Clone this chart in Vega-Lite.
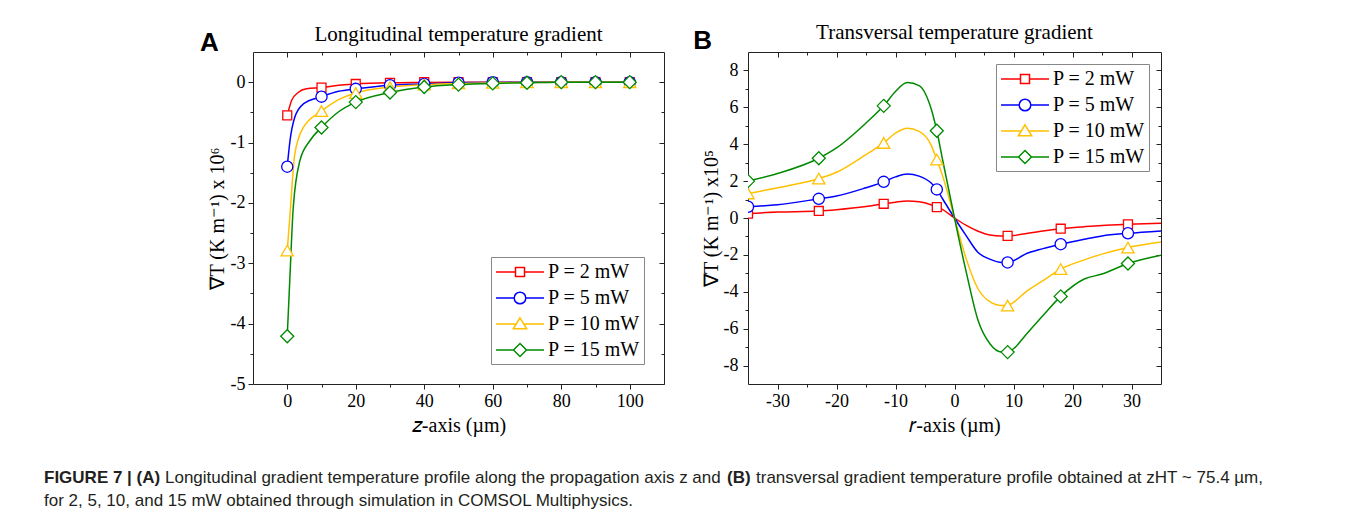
{
"$schema": "https://vega.github.io/schema/vega-lite/v6.json",
"autosize": {"type": "none"},
"padding": {"left": 253, "top": 52, "right": 1103, "bottom": 471},
"background": "white",
"config": {
  "view": {"stroke": "#222", "strokeWidth": 1},
  "axis": {"grid": false, "domain": false, "labelFont": "Liberation Serif", "labelFontSize": 18, "labelColor": "black", "titleFont": "Liberation Serif", "titleFontSize": 20, "titleFontWeight": "normal", "titleColor": "black", "tickColor": "#222", "tickWidth": 1, "labelFlush": false, "labelOverlap": false},
  "title": {"font": "Liberation Serif", "fontSize": 21, "fontWeight": "normal", "color": "black"},
  "legend": {"title": null, "padding": 4, "strokeColor": "#888", "fillColor": "white", "labelFont": "Liberation Serif", "labelFontSize": 20, "labelColor": "black", "symbolSize": 400, "symbolStrokeWidth": 1.5, "labelOffset": 31, "rowPadding": 5, "symbolFillColor": "white"}
},
"datasets": {
  "lineA": [
    {"s":"P = 2 mW","z":0,"v":-0.55},{"s":"P = 2 mW","z":1.3,"v":-0.30},{"s":"P = 2 mW","z":3.2,"v":-0.17},{"s":"P = 2 mW","z":5.6,"v":-0.11},{"s":"P = 2 mW","z":10,"v":-0.09},{"s":"P = 2 mW","z":15,"v":-0.05},{"s":"P = 2 mW","z":20,"v":-0.03},{"s":"P = 2 mW","z":30,"v":-0.011},{"s":"P = 2 mW","z":40,"v":-0.005},{"s":"P = 2 mW","z":50,"v":0},{"s":"P = 2 mW","z":60,"v":0},{"s":"P = 2 mW","z":70,"v":0},{"s":"P = 2 mW","z":80,"v":0},{"s":"P = 2 mW","z":90,"v":0},{"s":"P = 2 mW","z":100,"v":0},
    {"s":"P = 5 mW","z":0,"v":-1.40},{"s":"P = 5 mW","z":0.8,"v":-0.97},{"s":"P = 5 mW","z":2.2,"v":-0.58},{"s":"P = 5 mW","z":4.7,"v":-0.36},{"s":"P = 5 mW","z":10,"v":-0.24},{"s":"P = 5 mW","z":15,"v":-0.15},{"s":"P = 5 mW","z":20,"v":-0.11},{"s":"P = 5 mW","z":30,"v":-0.05},{"s":"P = 5 mW","z":40,"v":-0.03},{"s":"P = 5 mW","z":50,"v":-0.01},{"s":"P = 5 mW","z":60,"v":-0.005},{"s":"P = 5 mW","z":70,"v":0},{"s":"P = 5 mW","z":80,"v":0},{"s":"P = 5 mW","z":90,"v":0},{"s":"P = 5 mW","z":100,"v":0},
    {"s":"P = 10 mW","z":0,"v":-2.79},{"s":"P = 10 mW","z":0.8,"v":-2.2},{"s":"P = 10 mW","z":2.2,"v":-1.19},{"s":"P = 10 mW","z":4.7,"v":-0.75},{"s":"P = 10 mW","z":10,"v":-0.48},{"s":"P = 10 mW","z":15,"v":-0.29},{"s":"P = 10 mW","z":20,"v":-0.18},{"s":"P = 10 mW","z":30,"v":-0.08},{"s":"P = 10 mW","z":40,"v":-0.04},{"s":"P = 10 mW","z":50,"v":-0.02},{"s":"P = 10 mW","z":60,"v":-0.01},{"s":"P = 10 mW","z":70,"v":-0.005},{"s":"P = 10 mW","z":80,"v":0},{"s":"P = 10 mW","z":90,"v":0},{"s":"P = 10 mW","z":100,"v":0},
    {"s":"P = 15 mW","z":0,"v":-4.21},{"s":"P = 15 mW","z":0.8,"v":-3.2},{"s":"P = 15 mW","z":1.75,"v":-2.08},{"s":"P = 15 mW","z":3.7,"v":-1.30},{"s":"P = 15 mW","z":6.6,"v":-0.97},{"s":"P = 15 mW","z":10,"v":-0.75},{"s":"P = 15 mW","z":15,"v":-0.49},{"s":"P = 15 mW","z":20,"v":-0.33},{"s":"P = 15 mW","z":30,"v":-0.17},{"s":"P = 15 mW","z":40,"v":-0.08},{"s":"P = 15 mW","z":50,"v":-0.04},{"s":"P = 15 mW","z":60,"v":-0.02},{"s":"P = 15 mW","z":70,"v":-0.01},{"s":"P = 15 mW","z":80,"v":0},{"s":"P = 15 mW","z":90,"v":0},{"s":"P = 15 mW","z":100,"v":0}
  ],
  "markA": [
    {"s":"P = 2 mW","z":0,"v":-0.55},{"s":"P = 2 mW","z":10,"v":-0.09},{"s":"P = 2 mW","z":20,"v":-0.03},{"s":"P = 2 mW","z":30,"v":-0.01},{"s":"P = 2 mW","z":40,"v":0},{"s":"P = 2 mW","z":50,"v":0},{"s":"P = 2 mW","z":60,"v":0},{"s":"P = 2 mW","z":70,"v":0},{"s":"P = 2 mW","z":80,"v":0},{"s":"P = 2 mW","z":90,"v":0},{"s":"P = 2 mW","z":100,"v":0},
    {"s":"P = 5 mW","z":0,"v":-1.40},{"s":"P = 5 mW","z":10,"v":-0.24},{"s":"P = 5 mW","z":20,"v":-0.11},{"s":"P = 5 mW","z":30,"v":-0.05},{"s":"P = 5 mW","z":40,"v":-0.03},{"s":"P = 5 mW","z":50,"v":-0.01},{"s":"P = 5 mW","z":60,"v":0},{"s":"P = 5 mW","z":70,"v":0},{"s":"P = 5 mW","z":80,"v":0},{"s":"P = 5 mW","z":90,"v":0},{"s":"P = 5 mW","z":100,"v":0},
    {"s":"P = 10 mW","z":0,"v":-2.79},{"s":"P = 10 mW","z":10,"v":-0.48},{"s":"P = 10 mW","z":20,"v":-0.18},{"s":"P = 10 mW","z":30,"v":-0.08},{"s":"P = 10 mW","z":40,"v":-0.04},{"s":"P = 10 mW","z":50,"v":-0.02},{"s":"P = 10 mW","z":60,"v":-0.01},{"s":"P = 10 mW","z":70,"v":0},{"s":"P = 10 mW","z":80,"v":0},{"s":"P = 10 mW","z":90,"v":0},{"s":"P = 10 mW","z":100,"v":0},
    {"s":"P = 15 mW","z":0,"v":-4.21},{"s":"P = 15 mW","z":10,"v":-0.75},{"s":"P = 15 mW","z":20,"v":-0.33},{"s":"P = 15 mW","z":30,"v":-0.17},{"s":"P = 15 mW","z":40,"v":-0.08},{"s":"P = 15 mW","z":50,"v":-0.04},{"s":"P = 15 mW","z":60,"v":-0.02},{"s":"P = 15 mW","z":70,"v":-0.01},{"s":"P = 15 mW","z":80,"v":0},{"s":"P = 15 mW","z":90,"v":0},{"s":"P = 15 mW","z":100,"v":0}
  ],
  "lineB": [
    {"s":"P = 2 mW","r":-35,"v":0.24},{"s":"P = 2 mW","r":-30,"v":0.32},{"s":"P = 2 mW","r":-23,"v":0.38},{"s":"P = 2 mW","r":-20,"v":0.45},{"s":"P = 2 mW","r":-15,"v":0.62},{"s":"P = 2 mW","r":-12,"v":0.77},{"s":"P = 2 mW","r":-10,"v":0.86},{"s":"P = 2 mW","r":-8,"v":0.92},{"s":"P = 2 mW","r":-6,"v":0.88},{"s":"P = 2 mW","r":-4,"v":0.72},{"s":"P = 2 mW","r":-3,"v":0.59},{"s":"P = 2 mW","r":-2,"v":0.45},{"s":"P = 2 mW","r":0,"v":0},{"s":"P = 2 mW","r":2,"v":-0.40},{"s":"P = 2 mW","r":4,"v":-0.72},{"s":"P = 2 mW","r":6,"v":-0.92},{"s":"P = 2 mW","r":8,"v":-0.97},{"s":"P = 2 mW","r":9,"v":-0.97},{"s":"P = 2 mW","r":10,"v":-0.95},{"s":"P = 2 mW","r":12,"v":-0.85},{"s":"P = 2 mW","r":15,"v":-0.70},{"s":"P = 2 mW","r":18,"v":-0.58},{"s":"P = 2 mW","r":22,"v":-0.47},{"s":"P = 2 mW","r":25,"v":-0.40},{"s":"P = 2 mW","r":29.4,"v":-0.34},{"s":"P = 2 mW","r":35,"v":-0.29},
    {"s":"P = 5 mW","r":-35,"v":0.61},{"s":"P = 5 mW","r":-30,"v":0.72},{"s":"P = 5 mW","r":-23,"v":1.04},{"s":"P = 5 mW","r":-20,"v":1.19},{"s":"P = 5 mW","r":-15,"v":1.64},{"s":"P = 5 mW","r":-12,"v":1.96},{"s":"P = 5 mW","r":-10,"v":2.23},{"s":"P = 5 mW","r":-8,"v":2.39},{"s":"P = 5 mW","r":-6,"v":2.27},{"s":"P = 5 mW","r":-4,"v":1.91},{"s":"P = 5 mW","r":-3,"v":1.55},{"s":"P = 5 mW","r":-2,"v":1.03},{"s":"P = 5 mW","r":0,"v":0},{"s":"P = 5 mW","r":2,"v":-0.97},{"s":"P = 5 mW","r":4,"v":-1.87},{"s":"P = 5 mW","r":6,"v":-2.23},{"s":"P = 5 mW","r":8,"v":-2.41},{"s":"P = 5 mW","r":9,"v":-2.41},{"s":"P = 5 mW","r":10,"v":-2.32},{"s":"P = 5 mW","r":12,"v":-1.96},{"s":"P = 5 mW","r":15,"v":-1.66},{"s":"P = 5 mW","r":18,"v":-1.42},{"s":"P = 5 mW","r":22,"v":-1.15},{"s":"P = 5 mW","r":25,"v":-0.97},{"s":"P = 5 mW","r":29.4,"v":-0.83},{"s":"P = 5 mW","r":35,"v":-0.70},
    {"s":"P = 10 mW","r":-35,"v":1.33},{"s":"P = 10 mW","r":-30,"v":1.64},{"s":"P = 10 mW","r":-23,"v":2.14},{"s":"P = 10 mW","r":-20,"v":2.48},{"s":"P = 10 mW","r":-15,"v":3.44},{"s":"P = 10 mW","r":-12,"v":4.07},{"s":"P = 10 mW","r":-10,"v":4.6},{"s":"P = 10 mW","r":-8,"v":4.86},{"s":"P = 10 mW","r":-6,"v":4.7},{"s":"P = 10 mW","r":-4,"v":3.98},{"s":"P = 10 mW","r":-3,"v":3.17},{"s":"P = 10 mW","r":-2,"v":2.27},{"s":"P = 10 mW","r":0,"v":0},{"s":"P = 10 mW","r":2,"v":-2.23},{"s":"P = 10 mW","r":4,"v":-3.85},{"s":"P = 10 mW","r":6,"v":-4.54},{"s":"P = 10 mW","r":8,"v":-4.75},{"s":"P = 10 mW","r":9,"v":-4.75},{"s":"P = 10 mW","r":10,"v":-4.57},{"s":"P = 10 mW","r":12,"v":-4.03},{"s":"P = 10 mW","r":15,"v":-3.4},{"s":"P = 10 mW","r":18,"v":-2.77},{"s":"P = 10 mW","r":22,"v":-2.27},{"s":"P = 10 mW","r":25,"v":-1.96},{"s":"P = 10 mW","r":29.4,"v":-1.6},{"s":"P = 10 mW","r":35,"v":-1.3},
    {"s":"P = 15 mW","r":-35,"v":2.0},{"s":"P = 15 mW","r":-30,"v":2.41},{"s":"P = 15 mW","r":-23,"v":3.24},{"s":"P = 15 mW","r":-20,"v":3.80},{"s":"P = 15 mW","r":-15,"v":5.15},{"s":"P = 15 mW","r":-12,"v":6.08},{"s":"P = 15 mW","r":-10,"v":6.86},{"s":"P = 15 mW","r":-8,"v":7.34},{"s":"P = 15 mW","r":-6,"v":7.18},{"s":"P = 15 mW","r":-4,"v":5.96},{"s":"P = 15 mW","r":-3,"v":4.73},{"s":"P = 15 mW","r":-2,"v":3.13},{"s":"P = 15 mW","r":0,"v":0},{"s":"P = 15 mW","r":2,"v":-2.95},{"s":"P = 15 mW","r":4,"v":-5.56},{"s":"P = 15 mW","r":6,"v":-6.82},{"s":"P = 15 mW","r":8,"v":-7.27},{"s":"P = 15 mW","r":9,"v":-7.27},{"s":"P = 15 mW","r":10,"v":-7.09},{"s":"P = 15 mW","r":12,"v":-6.37},{"s":"P = 15 mW","r":15,"v":-5.29},{"s":"P = 15 mW","r":18,"v":-4.25},{"s":"P = 15 mW","r":22,"v":-3.31},{"s":"P = 15 mW","r":25,"v":-3.04},{"s":"P = 15 mW","r":29.4,"v":-2.47},{"s":"P = 15 mW","r":35,"v":-2.02}
  ],
  "markB": [
    {"s":"P = 2 mW","r":-35,"v":0.24},{"s":"P = 2 mW","r":-23,"v":0.38},{"s":"P = 2 mW","r":-12,"v":0.77},{"s":"P = 2 mW","r":-3,"v":0.59},{"s":"P = 2 mW","r":9,"v":-0.97},{"s":"P = 2 mW","r":18,"v":-0.58},{"s":"P = 2 mW","r":29.4,"v":-0.34},
    {"s":"P = 5 mW","r":-35,"v":0.61},{"s":"P = 5 mW","r":-23,"v":1.04},{"s":"P = 5 mW","r":-12,"v":1.96},{"s":"P = 5 mW","r":-3,"v":1.55},{"s":"P = 5 mW","r":9,"v":-2.41},{"s":"P = 5 mW","r":18,"v":-1.42},{"s":"P = 5 mW","r":29.4,"v":-0.83},
    {"s":"P = 10 mW","r":-35,"v":1.33},{"s":"P = 10 mW","r":-23,"v":2.14},{"s":"P = 10 mW","r":-12,"v":4.07},{"s":"P = 10 mW","r":-3,"v":3.17},{"s":"P = 10 mW","r":9,"v":-4.75},{"s":"P = 10 mW","r":18,"v":-2.77},{"s":"P = 10 mW","r":29.4,"v":-1.6},
    {"s":"P = 15 mW","r":-35,"v":2.0},{"s":"P = 15 mW","r":-23,"v":3.24},{"s":"P = 15 mW","r":-12,"v":6.08},{"s":"P = 15 mW","r":-3,"v":4.73},{"s":"P = 15 mW","r":9,"v":-7.27},{"s":"P = 15 mW","r":18,"v":-4.25},{"s":"P = 15 mW","r":29.4,"v":-2.47}
  ]
},
"concat": [
   {
    "width": 411, "height": 332,
    "title": {"text": "Longitudinal temperature gradient", "frame": "group", "offset": -15},
    "layer": [
     {"data": {"name": "lineA"},
      "mark": {"type": "line", "interpolate": "monotone", "strokeWidth": 1.5, "clip": true},
      "encoding": {
       "x": {"field": "z", "type": "quantitative", "scale": {"domain": [-10, 110], "nice": false, "zero": false},
             "axis": {"orient": "bottom", "values": [0, 20, 40, 60, 80, 100], "tickSize": 5, "labelPadding": 3, "title": "𝑧-axis (µm)", "titlePadding": 5, "labelExpr": "'' + datum.value"}},
       "y": {"field": "v", "type": "quantitative", "scale": {"domain": [-5, 0.5], "nice": false, "zero": false},
             "axis": {"orient": "left", "values": [-5, -4, -3, -2, -1, 0], "tickSize": 5, "labelPadding": 3, "title": "∇T (K m⁻¹) x 10⁶", "titlePadding": 3, "labelExpr": "'' + datum.value"}},
       "color": {"field": "s", "type": "nominal", "scale": {"domain": ["P = 2 mW", "P = 5 mW", "P = 10 mW", "P = 15 mW"], "range": ["#ff0000", "#0000ff", "#ffc000", "#008a00"]}, "legend": null}
      }},
     {"data": {"name": "markA"}, "transform": [{"filter": "datum.s === 'P = 2 mW'"}],
      "mark": {"type": "point", "shape": "square", "filled": false, "fill": "white", "opacity": 1, "size": 80, "strokeWidth": 1.3, "clip": true},
      "encoding": {
       "x": {"field": "z", "type": "quantitative", "scale": {"domain": [-10, 110], "nice": false, "zero": false},
             "axis": {"orient": "bottom", "values": [10, 30, 50, 70, 90], "tickSize": 3, "labels": false, "title": null}},
       "y": {"field": "v", "type": "quantitative", "scale": {"domain": [-5, 0.5], "nice": false, "zero": false},
             "axis": {"orient": "left", "values": [-4.5, -3.5, -2.5, -1.5, -0.5], "tickSize": 3, "labels": false, "title": null}},
       "color": {"field": "s", "type": "nominal", "legend": null}
      }},
     {"data": {"name": "markA"}, "transform": [{"filter": "datum.s === 'P = 5 mW'"}],
      "mark": {"type": "point", "shape": "circle", "filled": false, "fill": "white", "opacity": 1, "size": 125, "strokeWidth": 1.3, "clip": true},
      "encoding": {
       "x": {"field": "z", "type": "quantitative", "scale": {"domain": [-10, 110], "nice": false, "zero": false},
             "axis": {"orient": "top", "values": [0, 20, 40, 60, 80, 100], "tickSize": -5, "labels": false, "title": null}},
       "y": {"field": "v", "type": "quantitative", "scale": {"domain": [-5, 0.5], "nice": false, "zero": false},
             "axis": {"orient": "right", "values": [-5, -4, -3, -2, -1, 0], "tickSize": -5, "labels": false, "title": null}},
       "color": {"field": "s", "type": "nominal", "legend": null}
      }},
     {"data": {"name": "markA"}, "transform": [{"filter": "datum.s === 'P = 10 mW'"}],
      "mark": {"type": "point", "shape": "triangle-up", "filled": false, "fill": "white", "opacity": 1, "size": 150, "strokeWidth": 1.3, "clip": true},
      "encoding": {
       "x": {"field": "z", "type": "quantitative", "scale": {"domain": [-10, 110], "nice": false, "zero": false},
             "axis": {"orient": "top", "values": [10, 30, 50, 70, 90], "tickSize": -3, "labels": false, "title": null}},
       "y": {"field": "v", "type": "quantitative", "scale": {"domain": [-5, 0.5], "nice": false, "zero": false},
             "axis": {"orient": "right", "values": [-4.5, -3.5, -2.5, -1.5, -0.5], "tickSize": -3, "labels": false, "title": null}},
       "color": {"field": "s", "type": "nominal", "legend": null}
      }},
     {"data": {"name": "markA"}, "transform": [{"filter": "datum.s === 'P = 15 mW'"}],
      "mark": {"type": "point", "shape": "diamond", "filled": false, "fill": "white", "opacity": 1, "size": 170, "strokeWidth": 1.3, "clip": true},
      "encoding": {
       "x": {"field": "z", "type": "quantitative", "axis": null},
       "y": {"field": "v", "type": "quantitative", "axis": null},
       "color": {"field": "s", "type": "nominal", "legend": null}
      }},
     {"data": {"name": "markA"}, "transform": [{"filter": "false"}],
      "mark": {"type": "point", "filled": false, "fill": "white", "opacity": 1, "size": 400, "strokeWidth": 1.5},
      "encoding": {
       "x": {"field": "z", "type": "quantitative", "axis": null},
       "y": {"field": "v", "type": "quantitative", "axis": null},
       "color": {"field": "s", "type": "nominal", "legend": {"orient": "bottom-right", "offset": 20}},
       "shape": {"field": "s", "type": "nominal", "scale": {"domain": ["P = 2 mW", "P = 5 mW", "P = 10 mW", "P = 15 mW"], "range": ["M-1,0H0.95M1.85,0H3.8M0.95,-0.45H1.85V0.45H0.95Z", "M-1,0H0.82M1.98,0H3.8M1.98,0A0.58,0.58,0,1,1,0.82,0A0.58,0.58,0,1,1,1.98,0Z", "M-1,0H1.03M1.77,0H3.8M1.4,-0.62L2.07,0.48L0.73,0.48Z", "M-1,0H0.75M2.05,0H3.8M1.4,-0.65L2.05,0L1.4,0.65L0.75,0Z"]}, "legend": {"orient": "bottom-right", "offset": 20}}
      }},
     {"data": {"values": [{"lab": "A"}]},
      "mark": {"type": "text", "font": "Liberation Sans", "fontWeight": "bold", "fontSize": 26, "align": "center", "baseline": "alphabetic", "color": "black", "clip": false},
      "encoding": {
       "text": {"field": "lab"},
       "x": {"datum": -22.7, "type": "quantitative", "axis": null},
       "y": {"datum": 0.52, "type": "quantitative", "axis": null}
      }}
    ],
    "resolve": {"axis": {"x": "independent", "y": "independent"}, "legend": {"color": "independent", "shape": "independent"}}
   },
   {
    "width": 413, "height": 332,
    "title": {"text": "Transversal temperature gradient", "frame": "group", "offset": -15},
    "layer": [
     {"data": {"name": "lineB"},
      "mark": {"type": "line", "interpolate": "monotone", "strokeWidth": 1.5, "clip": true},
      "encoding": {
       "x": {"field": "r", "type": "quantitative", "scale": {"domain": [-35, 35], "nice": false, "zero": false},
             "axis": {"orient": "bottom", "values": [-30, -20, -10, 0, 10, 20, 30], "tickSize": 5, "labelPadding": 3, "title": "𝑟-axis (µm)", "titlePadding": 5, "labelExpr": "'' + datum.value"}},
       "y": {"field": "v", "type": "quantitative", "scale": {"domain": [-9, 9], "nice": false, "zero": false},
             "axis": {"orient": "left", "values": [-8, -6, -4, -2, 0, 2, 4, 6, 8], "tickSize": 5, "labelPadding": 5, "title": "∇T (K m⁻¹) x10⁵", "titlePadding": 2, "labelExpr": "'' + datum.value"}},
       "color": {"field": "s", "type": "nominal", "scale": {"domain": ["P = 2 mW", "P = 5 mW", "P = 10 mW", "P = 15 mW"], "range": ["#ff0000", "#0000ff", "#ffc000", "#008a00"]}, "legend": null}
      }},
     {"data": {"name": "markB"}, "transform": [{"filter": "datum.s === 'P = 2 mW'"}],
      "mark": {"type": "point", "shape": "square", "filled": false, "fill": "white", "opacity": 1, "size": 80, "strokeWidth": 1.3, "clip": true},
      "encoding": {
       "x": {"field": "r", "type": "quantitative", "scale": {"domain": [-35, 35], "nice": false, "zero": false},
             "axis": {"orient": "bottom", "values": [-25, -15, -5, 5, 15, 25], "tickSize": 3, "labels": false, "title": null}},
       "y": {"field": "v", "type": "quantitative", "scale": {"domain": [-9, 9], "nice": false, "zero": false},
             "axis": {"orient": "left", "values": [-7, -5, -3, -1, 1, 3, 5, 7], "tickSize": 3, "labels": false, "title": null}},
       "color": {"field": "s", "type": "nominal", "legend": null}
      }},
     {"data": {"name": "markB"}, "transform": [{"filter": "datum.s === 'P = 5 mW'"}],
      "mark": {"type": "point", "shape": "circle", "filled": false, "fill": "white", "opacity": 1, "size": 125, "strokeWidth": 1.3, "clip": true},
      "encoding": {
       "x": {"field": "r", "type": "quantitative", "scale": {"domain": [-35, 35], "nice": false, "zero": false},
             "axis": {"orient": "top", "values": [-30, -20, -10, 0, 10, 20, 30], "tickSize": -5, "labels": false, "title": null}},
       "y": {"field": "v", "type": "quantitative", "scale": {"domain": [-9, 9], "nice": false, "zero": false},
             "axis": {"orient": "right", "values": [-8, -6, -4, -2, 0, 2, 4, 6, 8], "tickSize": -5, "labels": false, "title": null}},
       "color": {"field": "s", "type": "nominal", "legend": null}
      }},
     {"data": {"name": "markB"}, "transform": [{"filter": "datum.s === 'P = 10 mW'"}],
      "mark": {"type": "point", "shape": "triangle-up", "filled": false, "fill": "white", "opacity": 1, "size": 150, "strokeWidth": 1.3, "clip": true},
      "encoding": {
       "x": {"field": "r", "type": "quantitative", "scale": {"domain": [-35, 35], "nice": false, "zero": false},
             "axis": {"orient": "top", "values": [-25, -15, -5, 5, 15, 25], "tickSize": -3, "labels": false, "title": null}},
       "y": {"field": "v", "type": "quantitative", "scale": {"domain": [-9, 9], "nice": false, "zero": false},
             "axis": {"orient": "right", "values": [-7, -5, -3, -1, 1, 3, 5, 7], "tickSize": -3, "labels": false, "title": null}},
       "color": {"field": "s", "type": "nominal", "legend": null}
      }},
     {"data": {"name": "markB"}, "transform": [{"filter": "datum.s === 'P = 15 mW'"}],
      "mark": {"type": "point", "shape": "diamond", "filled": false, "fill": "white", "opacity": 1, "size": 170, "strokeWidth": 1.3, "clip": true},
      "encoding": {
       "x": {"field": "r", "type": "quantitative", "axis": null},
       "y": {"field": "v", "type": "quantitative", "axis": null},
       "color": {"field": "s", "type": "nominal", "legend": null}
      }},
     {"data": {"name": "markB"}, "transform": [{"filter": "false"}],
      "mark": {"type": "point", "filled": false, "fill": "white", "opacity": 1, "size": 400, "strokeWidth": 1.5},
      "encoding": {
       "x": {"field": "r", "type": "quantitative", "axis": null},
       "y": {"field": "v", "type": "quantitative", "axis": null},
       "color": {"field": "s", "type": "nominal", "legend": {"orient": "top-right", "offset": 12}},
       "shape": {"field": "s", "type": "nominal", "scale": {"domain": ["P = 2 mW", "P = 5 mW", "P = 10 mW", "P = 15 mW"], "range": ["M-1,0H0.95M1.85,0H3.8M0.95,-0.45H1.85V0.45H0.95Z", "M-1,0H0.82M1.98,0H3.8M1.98,0A0.58,0.58,0,1,1,0.82,0A0.58,0.58,0,1,1,1.98,0Z", "M-1,0H1.03M1.77,0H3.8M1.4,-0.62L2.07,0.48L0.73,0.48Z", "M-1,0H0.75M2.05,0H3.8M1.4,-0.65L2.05,0L1.4,0.65L0.75,0Z"]}, "legend": {"orient": "top-right", "offset": 12}}
      }},
     {"data": {"values": [{"lab": "B"}]},
      "mark": {"type": "text", "font": "Liberation Sans", "fontWeight": "bold", "fontSize": 26, "align": "center", "baseline": "alphabetic", "color": "black", "clip": false},
      "encoding": {
       "text": {"field": "lab"},
       "x": {"datum": -42.7, "type": "quantitative", "axis": null},
       "y": {"datum": 9.15, "type": "quantitative", "axis": null}
      }}
    ],
    "resolve": {"axis": {"x": "independent", "y": "independent"}, "legend": {"color": "independent", "shape": "independent"}}
   },
   {
    "width": 400, "height": 46,
    "view": {"stroke": null},
    "layer": [
     {"data": {"values": [{"t": "FIGURE 7 | (A)"}]},
      "mark": {"type": "text", "align": "left", "baseline": "alphabetic", "font": "Liberation Sans", "fontSize": 17, "fontWeight": "bold", "color": "#231f20", "clip": false},
      "encoding": {"text": {"field": "t"},
       "x": {"datum": -209, "type": "quantitative", "scale": {"domain": [0, 400], "nice": false, "zero": false}, "axis": null},
       "y": {"datum": "l1", "type": "ordinal", "scale": {"type": "point", "domain": ["l1", "l2"], "padding": 0.5}, "axis": null}}},
     {"data": {"values": [{"t": "Longitudinal gradient temperature profile along the propagation axis z and"}]},
      "mark": {"type": "text", "align": "left", "baseline": "alphabetic", "font": "Liberation Sans", "fontSize": 17, "color": "#231f20", "clip": false},
      "encoding": {"text": {"field": "t"},
       "x": {"datum": -88, "type": "quantitative", "axis": null},
       "y": {"datum": "l1", "type": "ordinal", "axis": null}}},
     {"data": {"values": [{"t": "(B)"}]},
      "mark": {"type": "text", "align": "left", "baseline": "alphabetic", "font": "Liberation Sans", "fontSize": 17, "fontWeight": "bold", "color": "#231f20", "clip": false},
      "encoding": {"text": {"field": "t"},
       "x": {"datum": 474, "type": "quantitative", "axis": null},
       "y": {"datum": "l1", "type": "ordinal", "axis": null}}},
     {"data": {"values": [{"t": "transversal gradient temperature profile obtained at zHT ~ 75.4 µm,"}]},
      "mark": {"type": "text", "align": "left", "baseline": "alphabetic", "font": "Liberation Sans", "fontSize": 17, "color": "#231f20", "clip": false},
      "encoding": {"text": {"field": "t"},
       "x": {"datum": 503, "type": "quantitative", "axis": null},
       "y": {"datum": "l1", "type": "ordinal", "axis": null}}},
     {"data": {"values": [{"t": "for 2, 5, 10, and 15 mW obtained through simulation in COMSOL Multiphysics."}]},
      "mark": {"type": "text", "align": "left", "baseline": "alphabetic", "font": "Liberation Sans", "fontSize": 17, "color": "#231f20", "clip": false},
      "encoding": {"text": {"field": "t"},
       "x": {"datum": -209, "type": "quantitative", "axis": null},
       "y": {"datum": "l2", "type": "ordinal", "axis": null}}}
    ]
   }
],
"columns": 2,
"spacing": {"row": 87.5, "column": 84},
"bounds": "flush"
}
